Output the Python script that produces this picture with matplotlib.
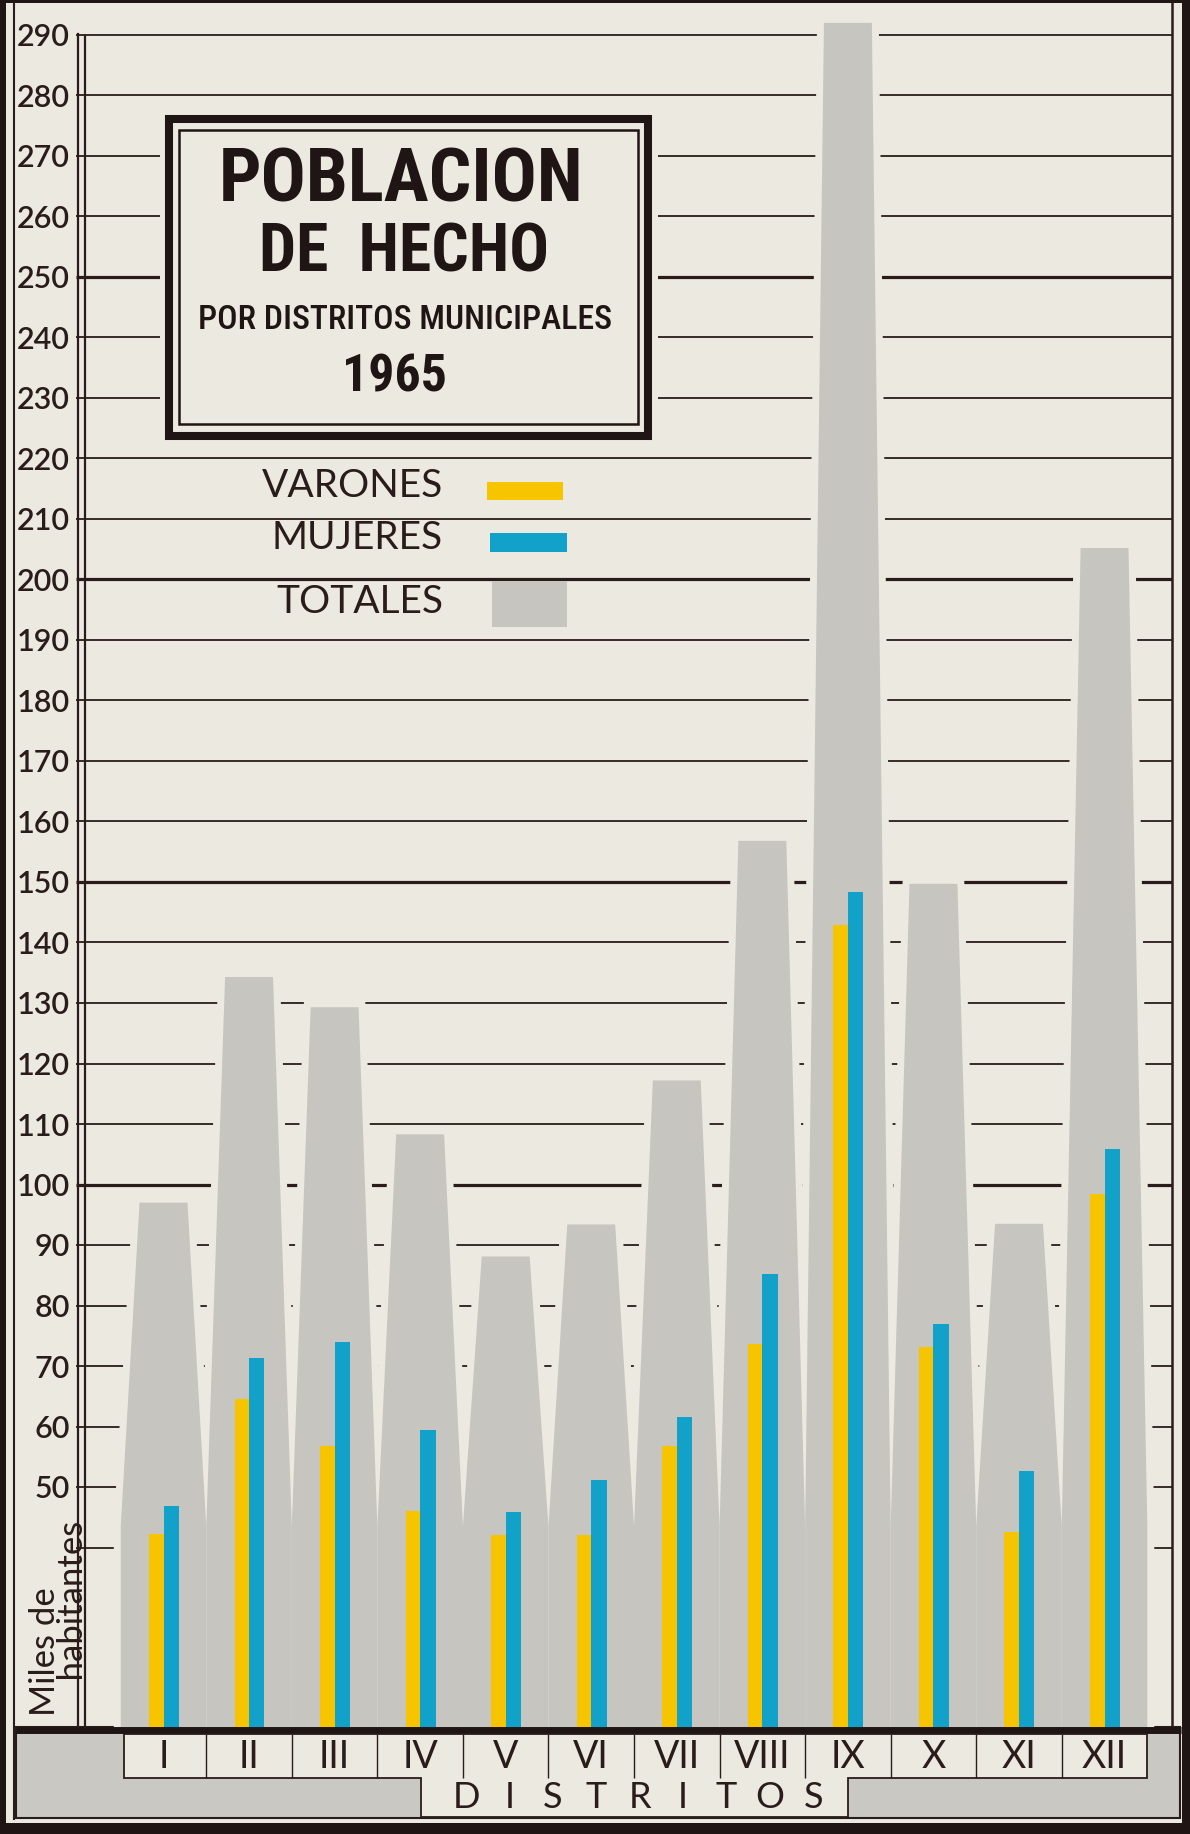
import numpy as np
import matplotlib
matplotlib.use("Agg")
import matplotlib.pyplot as plt
from matplotlib.patches import Polygon, Rectangle

plt.rcParams['font.family'] = ['Lato', 'DejaVu Sans']

# datos en miles de habitantes
distritos = ["I", "II", "III", "IV", "V", "VI", "VII", "VIII", "IX", "X", "XI", "XII"]
varones = [42.2, 64.5, 56.8, 46.0, 42.0, 42.0, 56.8, 73.6, 142.9, 73.2, 42.5, 98.4]
mujeres = [46.9, 71.4, 74.0, 59.5, 45.8, 51.2, 61.6, 85.2, 148.3, 76.9, 52.7, 105.9]
totales = [97.0, 134.3, 129.3, 108.3, 88.1, 93.4, 117.2, 156.8, 292.0, 149.7, 93.5, 205.2]
niveles = list(range(40, 300, 10))
etiquetas_y = list(range(50, 300, 10))

papel = '#ece9e1'
tinta = '#2a1c1b'
gris = '#c6c5bf'
gris_caja = '#c9c8c2'
amarillo = '#f7c400'
azul = '#12a1c8'
marco = '#1f1514'

W, H = 1190, 1834


# posicion en pixeles -> valores del eje
def val(py):
    return 50 + (1487 - py) / 6.05


def xd(px):
    return (px - 163.5) / 85.55


fig = plt.figure(figsize=(W / 100, H / 100), dpi=100)
fig.patch.set_facecolor(marco)

# fondo: papel, marcos y franja inferior
bg = fig.add_axes([0, 0, 1, 1], zorder=0)
bg.set_xlim(0, W)
bg.set_ylim(H, 0)
bg.axis('off')
bg.add_patch(Rectangle((6, 3), 1176, 1820, facecolor=papel, lw=0))
bg.plot([14, 14], [3, 1819], color=tinta, lw=1.5)
bg.plot([1172, 1172], [3, 1727], color=tinta, lw=1.8)
bg.add_patch(Rectangle((16, 1727), 1164, 91, facecolor=gris_caja, edgecolor=tinta, lw=1.5))
bg.add_patch(Polygon([(124, 1734), (1147, 1734), (1147, 1778), (848, 1778), (848, 1817),
                      (421, 1817), (421, 1778), (124, 1778)], closed=True,
                     facecolor=papel, edgecolor=tinta, lw=1.3))
for k, letra in enumerate("DISTRITOS"):
    bg.text(466 + 43.4 * k, 1797, letra, ha='center', va='center', fontsize=26, color=tinta)

# grafico
ax = fig.add_axes([76 / W, 1 - 1727 / H, (1172 - 76) / W, (1727 - 10) / H], zorder=1)
ax.patch.set_visible(False)
base = val(1727)
ax.set_ylim(base, val(10))
ax.set_xlim(xd(76), xd(1172))
for s in ax.spines.values():
    s.set_visible(False)

ax.hlines(niveles, xd(76), xd(1172), colors=tinta,
          linewidths=[2.3 if (n % 50 == 0 and n >= 100) else 1.3 for n in niveles], zorder=1)

ancho_sup = 0.56
encuentro = 43.5
for i, t in enumerate(totales):
    verts = [(i - 0.5, base), (i - 0.5, encuentro), (i - ancho_sup / 2, t),
             (i + ancho_sup / 2, t), (i + 0.5, encuentro), (i + 0.5, base)]
    ax.add_patch(Polygon(verts, closed=True, facecolor=papel, edgecolor=papel, lw=10,
                         joinstyle='miter', zorder=2, clip_on=False))
    ax.add_patch(Polygon(verts, closed=True, facecolor=gris, lw=0, zorder=3, clip_on=False))

idx = np.arange(len(distritos))
ax.bar(idx - 0.085, np.array(varones) - base, width=0.17, bottom=base, color=amarillo, zorder=4)
ax.bar(idx + 0.09, np.array(mujeres) - base, width=0.18, bottom=base, color=azul, zorder=4)

ax.set_xticks([])
ax.set_yticks(etiquetas_y)
ax.set_yticklabels([str(v) for v in etiquetas_y], fontsize=22, color=tinta,
                   fontweight='semibold')
ax.tick_params(axis='y', length=0, pad=4.5)

yt = ax.get_xaxis_transform()
for i, d in enumerate(distritos):
    ax.text(i, -(1757 - 1727) / 1717, d, transform=yt, ha='center', va='center',
            fontsize=27, color=tinta, clip_on=False)
ax.vlines(idx[:-1] + 0.5, -(1734 - 1727) / 1717, -(1778 - 1727) / 1717, transform=yt,
          colors=tinta, lw=1.0, clip_on=False)

# primer plano: eje, titulo, leyenda
fg = fig.add_axes([0, 0, 1, 1], zorder=2)
fg.patch.set_visible(False)
fg.set_xlim(0, W)
fg.set_ylim(H, 0)
fg.axis('off')

fg.plot([16, 1181], [1730, 1730], color=marco, lw=5, solid_capstyle='butt')
fg.plot([77.5, 77.5], [34, 1727], color=tinta, lw=1.6)
fg.plot([84.5, 84.5], [36, 1727], color=tinta, lw=1.6)

fg.text(59, 1618, "Miles de\n    habitantes", rotation=90, ha='center', va='center',
        multialignment='left', linespacing=0.85, fontsize=25, color=tinta)

fg.add_patch(Rectangle((160, 107), 498, 343, facecolor=papel, lw=0))
fg.add_patch(Rectangle((169, 118.5), 478.5, 317, facecolor='none', edgecolor=marco, lw=5.8,
                       joinstyle='miter'))
fg.add_patch(Rectangle((178.5, 129.5), 459.5, 294, facecolor='none', edgecolor=marco, lw=1.8))

# titulo en letra estrecha; se ajusta al ancho del original
titulo = ['Roboto Condensed', 'Liberation Sans Narrow', 'Noto Sans Condensed', 'Noto Sans',
          'Liberation Sans']
lineas = [("POBLACION", 401, 182, 56, 'bold', 365),
          ("DE  HECHO", 404, 254, 56, 'bold', 290),
          ("POR DISTRITOS MUNICIPALES", 405, 320, 33, 'medium', 415),
          ("1965", 395, 378, 40, 'bold', 105)]
renderer = fig.canvas.get_renderer()
for texto, x, y, fs, peso, ancho in lineas:
    t = fg.text(x, y, texto, ha='center', va='center', fontsize=fs, fontweight=peso,
                family=titulo, fontstretch='condensed', color=marco)
    w = t.get_window_extent(renderer).width
    if w > ancho:
        t.set_fontsize(fs * ancho / w)

for texto, y in [("VARONES", 486), ("MUJERES", 538), ("TOTALES", 602)]:
    fg.text(443, y, texto, ha='right', va='center', fontsize=28, color=tinta)
fg.add_patch(Rectangle((487, 482), 76, 18, facecolor=amarillo, lw=0))
fg.add_patch(Rectangle((490, 533), 77, 19, facecolor=azul, lw=0))
fg.add_patch(Rectangle((492, 581), 75, 46, facecolor=gris, lw=0))

fig.savefig("out.png", dpi=100, facecolor=fig.get_facecolor())
